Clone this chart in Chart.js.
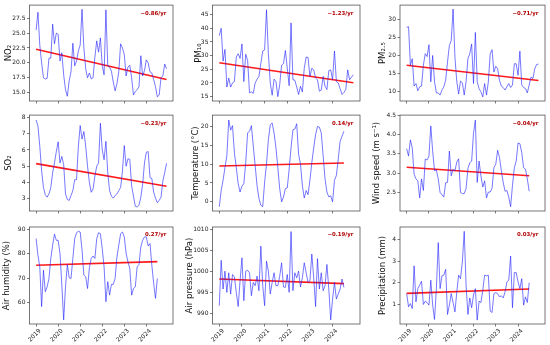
<!DOCTYPE html>
<html>
<head>
<meta charset="utf-8">
<script src="https://cdn.jsdelivr.net/npm/chart.js@4.4.1/dist/chart.umd.min.js"></script>
<style>
  body { margin: 0; background: #fff; }
  #wrap { position: relative; width: 550px; height: 345px; overflow: hidden; }
  canvas { position: absolute; }
</style>
</head>
<body>
<div id="wrap"></div>
<script>
// monthly values, first one is Jan 2019
const no2 = [25.5, 28.5, 23.0, 20.0, 17.5, 17.3, 17.4, 20.8, 20.8, 26.5, 23.2, 25.0,
  24.8, 20.3, 21.7, 18.0, 15.5, 14.4, 17.0, 18.5, 23.3, 19.5, 20.3, 22.0,
  23.0, 29.0, 22.5, 19.0, 17.5, 18.3, 17.3, 17.5, 21.0, 23.7, 21.8, 24.2,
  19.5, 18.0, 28.9, 19.5, 19.3, 18.6, 16.8, 15.3, 16.5, 18.5, 23.2, 22.5,
  21.4, 17.8, 19.3, 19.6, 17.5, 14.6, 15.2, 15.5, 16.0, 21.2, 17.8, 18.7,
  20.5, 20.0, 18.5, 18.3, 17.2, 16.0, 14.3, 14.6, 17.5, 17.8, 19.8, 19.0];
const pm10 = [37.3, 40.0, 28.0, 32.3, 18.5, 21.8, 18.5, 20.0, 20.5, 29.5, 30.7, 29.0,
  34.3, 20.5, 30.5, 28.3, 16.4, 16.7, 16.2, 20.0, 21.4, 22.4, 27.1, 31.7,
  32.1, 46.8, 30.7, 20.0, 15.5, 21.4, 20.5, 15.0, 19.4, 26.5, 27.1, 31.9,
  25.4, 19.0, 42.0, 21.2, 21.0, 18.5, 15.8, 18.8, 16.7, 25.4, 29.5, 29.3,
  22.4, 25.4, 24.8, 21.8, 21.2, 17.0, 17.4, 22.4, 18.8, 17.6, 24.5, 24.8,
  21.2, 31.7, 20.5, 20.0, 17.9, 15.8, 16.5, 17.6, 24.8, 21.2, 22.1, 23.0];
const pm25 = [27.7, 27.9, 17.2, 19.0, 11.4, 12.1, 10.1, 11.2, 11.4, 17.2, 20.4, 19.6,
  22.9, 12.6, 19.9, 12.6, 9.5, 9.5, 8.9, 10.3, 11.2, 13.0, 18.1, 22.7,
  24.0, 32.8, 19.4, 12.6, 9.2, 12.8, 12.3, 8.9, 12.6, 19.0, 20.4, 23.1,
  12.1, 26.3, 12.6, 10.7, 9.8, 8.4, 12.1, 8.9, 12.6, 20.4, 21.5, 15.3,
  16.9, 16.2, 13.0, 11.4, 11.0, 10.3, 11.2, 12.1, 11.0, 11.7, 17.6, 17.6,
  14.4, 21.1, 11.7, 11.0, 10.7, 9.5, 11.7, 13.9, 13.5, 16.2, 17.4, 17.5];
const so2 = [7.84, 7.48, 6.23, 4.71, 3.7, 3.24, 3.1, 3.3, 3.7, 4.6, 5.2, 5.9,
  6.5, 5.2, 5.6, 5.1, 3.3, 2.96, 2.9, 3.2, 3.5, 4.17, 4.17, 6.23,
  7.5, 6.67, 7.13, 6.23, 5.0, 4.0, 3.4, 3.6, 4.4, 5.0, 5.2, 7.64,
  6.0, 5.4, 6.53, 4.6, 3.5, 3.16, 3.04, 3.2, 3.3, 3.5, 3.7, 4.7,
  6.27, 5.0, 5.46, 5.42, 3.8, 3.16, 2.54, 2.5, 2.6, 3.1, 3.9, 5.2,
  5.86, 5.9, 4.3, 4.25, 3.4, 3.04, 2.76, 2.9, 3.1, 4.1, 4.6, 5.18];
const temp = [-1.3, 3.0, 5.7, 9.1, 12.2, 21.7, 19.0, 20.2, 13.0, 9.1, 4.8, 2.6,
  4.2, 4.8, 10.4, 18.3, 18.7, 20.2, 14.8, 9.6, 4.3, 0.9, -0.9, -1.3,
  5.2, 10.0, 16.5, 20.4, 20.9, 18.3, 14.3, 9.1, 3.5, 0.0, 1.3, 3.5,
  3.7, 8.7, 14.3, 19.1, 19.3, 20.7, 12.6, 10.0, 4.3, 1.0, 3.0, 1.9,
  5.7, 10.4, 14.3, 17.8, 20.0, 19.8, 18.3, 12.2, 6.1, 2.6, 1.3, 1.6,
  0.0, 5.7, 7.0, 11.3, 16.1, 17.4, 18.7];
const wind = [3.63, 3.44, 3.86, 3.65, 2.97, 2.85, 2.8, 2.36, 2.85, 2.55, 3.36, 3.34,
  3.44, 4.22, 3.57, 3.06, 3.08, 2.85, 2.5, 2.44, 2.38, 2.75, 2.76, 3.57,
  2.93, 3.1, 3.06, 3.29, 3.37, 2.5, 2.47, 2.47, 2.6, 3.12, 3.27, 3.31,
  4.03, 4.37, 2.76, 3.31, 2.93, 2.64, 2.8, 2.36, 2.51, 2.51, 2.61, 3.14,
  3.23, 3.59, 3.4, 3.06, 2.76, 2.53, 2.55, 2.38, 2.13, 2.68, 3.14, 3.31,
  3.78, 3.76, 3.53, 3.14, 3.1, 2.85, 2.53];
const humidity = [86.2, 79.4, 74.7, 58.4, 73.3, 64.5, 66.5, 69.9, 78.1, 83.5, 88.0, 85.5,
  85.5, 80.1, 67.2, 53.0, 66.5, 75.6, 70.2, 69.9, 78.1, 86.2, 88.6, 89.2,
  88.9, 81.5, 71.3, 70.6, 65.8, 74.3, 78.1, 79.1, 78.1, 86.2, 88.6, 88.2,
  82.1, 74.7, 60.4, 68.6, 63.1, 67.5, 67.5, 69.9, 78.7, 83.5, 88.2, 88.9,
  86.9, 80.1, 76.7, 74.0, 63.1, 65.8, 66.5, 74.7, 75.6, 82.8, 85.5, 86.9,
  86.9, 83.2, 84.2, 75.3, 67.9, 61.8, 69.9];
const pressure = [991.8, 1002.7, 995.8, 1000.1, 995.0, 999.7, 994.6, 999.3, 998.7, 995.0, 991.6, 997.8,
  1003.3, 993.0, 1000.1, 1000.3, 999.7, 994.2, 997.4, 996.6, 998.9, 995.4, 1006.1, 996.6,
  991.8, 1002.5, 1000.1, 994.6, 997.4, 999.7, 996.6, 996.6, 998.9, 1002.1, 996.3, 996.2,
  999.3, 995.0, 1009.6, 995.4, 999.7, 998.5, 1000.1, 996.3, 998.5, 1002.1, 999.7, 997.4,
  997.8, 1004.2, 998.5, 991.6, 1003.1, 995.8, 999.7, 995.4, 996.6, 1001.7, 995.8, 988.4,
  993.4, 997.4, 993.4, 994.6, 995.8, 998.2, 996.2];
const precip = [1.5, 0.89, 1.04, 0.81, 2.78, 1.12, 1.73, 1.89, 2.07, 1.0, 1.15, 1.09,
  0.97, 2.12, 0.97, 0.31, 1.73, 3.85, 1.73, 2.32, 2.35, 2.62, 0.54, 0.97,
  1.5, 1.09, 0.66, 1.58, 2.35, 2.19, 2.96, 4.37, 1.89, 0.54, 1.3, 0.85,
  1.43, 1.73, 0.28, 1.15, 1.09, 1.66, 2.35, 2.32, 2.35, 0.69, 0.63, 1.5,
  1.55, 1.5, 1.35, 1.4, 1.3, 1.58, 2.04, 2.12, 3.23, 0.85, 2.47, 2.47,
  2.04, 1.73, 2.19, 0.97, 1.35, 1.09, 2.0];

const series = [no2, pm10, pm25, so2, temp, wind, humidity, pressure, precip];
const titles = ['NO₂', 'PM₁₀', 'PM₂.₅', 'SO₂', 'Temperature (°C)', 'Wind speed (m s⁻¹)',
  'Air humidity (%)', 'Air pressure (hPa)', 'Precipitation (mm)'];
const slopes = ['−0.86/yr', '−1.23/yr', '−0.71/yr', '−0.23/yr', '0.14/yr', '−0.04/yr',
  '0.27/yr', '−0.19/yr', '0.03/yr'];
const trendStart = [22.3, 27.4, 17.2, 5.16, 9.5, 3.15, 75.3, 998.2, 1.51];
const trendEnd = [17.2, 20.1, 12.95, 3.77, 10.3, 2.93, 76.8, 997.1, 1.71];
const yTickLabels = [
  ['15.0', '17.5', '20.0', '22.5', '25.0', '27.5'],
  ['15', '20', '25', '30', '35', '40', '45'],
  ['10', '15', '20', '25', '30'],
  ['3', '4', '5', '6', '7', '8'],
  ['0', '5', '10', '15', '20'],
  ['2.5', '3.0', '3.5', '4.0', '4.5'],
  ['60', '70', '80', '90'],
  ['990', '995', '1000', '1005', '1010'],
  ['1', '2', '3', '4']
];
const yMin = [13.6, 13.4, 7.25, 2.25, -2.43, 2.02, 51.3, 987.4, 0.1];
const yMax = [29.7, 48.5, 33.9, 8.14, 23.0, 4.5, 90.95, 1010.7, 4.57];
const years = [2019, 2020, 2021, 2022, 2023, 2024];

// layout: canvas span and axes box span for each column / row
const cols = [[0, 183, 29.5, 173], [183, 368, 212.5, 360], [368, 550, 400, 545]];
const rows = [[0, 110, 4, 101], [110, 220, 115, 211], [220, 345, 227, 324]];
const titlePad = [3.2, 10.5, 9.5, 3.2, 7.5, 4, 1.6, 2, 9.5];

Chart.defaults.font.family = '"DejaVu Sans", sans-serif';

const framePlugin = {
  id: 'frame',
  afterDraw(chart, args, opts) {
    const { ctx, chartArea: a } = chart;
    ctx.save();
    ctx.strokeStyle = '#555';
    ctx.lineWidth = 0.8;
    ctx.strokeRect(a.left, a.top, a.right - a.left, a.bottom - a.top);
    ctx.font = 'bold 5.4px "DejaVu Sans"';
    ctx.fillStyle = '#b00000';
    ctx.textAlign = 'right';
    ctx.textBaseline = 'middle';
    ctx.fillText(opts.text, a.right - 6.5, a.top + 8);
    ctx.restore();
  }
};

const wrap = document.getElementById('wrap');

series.forEach((vals, k) => {
  const c = cols[k % 3], r = rows[Math.floor(k / 3)];
  const canvas = document.createElement('canvas');
  canvas.width = c[1] - c[0];
  canvas.height = r[1] - r[0];
  canvas.style.left = c[0] + 'px';
  canvas.style.top = r[0] + 'px';
  wrap.appendChild(canvas);

  const pts = vals.map((v, i) => ({ x: 2019 + i / 12, y: v }));
  const last = pts[pts.length - 1].x;
  const bottomRow = k >= 6;

  new Chart(canvas, {
    type: 'line',
    data: {
      datasets: [
        {
          data: pts,
          borderColor: 'rgba(30,30,255,0.6)',
          borderWidth: 1,
          pointRadius: 0,
          tension: 0
        },
        {
          data: [{ x: 2019, y: trendStart[k] }, { x: last, y: trendEnd[k] }],
          borderColor: 'rgba(255,0,0,0.9)',
          borderWidth: 1.6,
          pointRadius: 0
        }
      ]
    },
    options: {
      responsive: false,
      animation: false,
      devicePixelRatio: 1,
      layout: { padding: { left: 0, top: r[2] - r[0], right: c[1] - c[3], bottom: 0 } },
      plugins: {
        legend: { display: false },
        tooltip: { enabled: false },
        frame: { text: slopes[k] }
      },
      scales: {
        x: {
          type: 'linear',
          min: 2018.7,
          max: 2025.21,
          afterBuildTicks: s => { s.ticks = years.map(v => ({ value: v })); },
          afterFit: s => { s.height = r[1] - r[3]; },
          border: { display: false },
          grid: { drawOnChartArea: false, drawTicks: true, tickLength: 2.5, color: '#444', lineWidth: 0.7 },
          ticks: {
            display: bottomRow,
            minRotation: 45,
            maxRotation: 45,
            padding: 1,
            labelOffset: 4,
            color: '#222',
            font: { size: 6 },
            callback: v => String(v)
          }
        },
        y: {
          min: yMin[k],
          max: yMax[k],
          afterBuildTicks: s => { s.ticks = yTickLabels[k].map(t => ({ value: parseFloat(t) })); },
          afterFit: s => { s.width = c[2] - c[0]; },
          border: { display: false },
          grid: { drawOnChartArea: false, drawTicks: true, tickLength: 2.5, color: '#444', lineWidth: 0.7 },
          ticks: {
            padding: 1.5,
            color: '#222',
            font: { size: 6 },
            callback: (v, i) => yTickLabels[k][i]
          },
          title: {
            display: true,
            text: titles[k],
            color: '#111',
            font: { size: 8.5 },
            padding: { top: titlePad[k], bottom: 0 }
          }
        }
      }
    },
    plugins: [framePlugin]
  });
});
</script>
</body>
</html>
